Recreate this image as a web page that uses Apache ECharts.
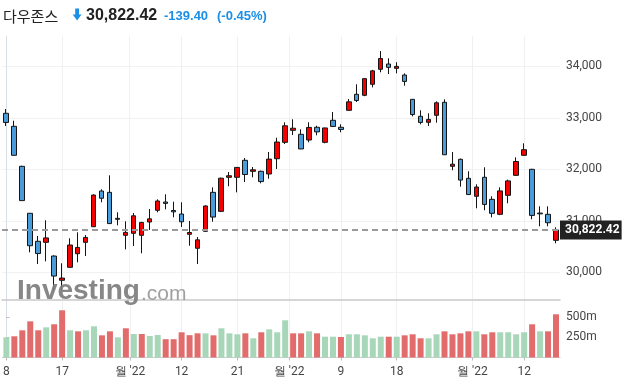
<!DOCTYPE html>
<html><head><meta charset="utf-8">
<script src="https://cdn.jsdelivr.net/npm/echarts@6/dist/echarts.min.js"></script>
<style>html,body{margin:0;padding:0;background:#fff}#c{width:624px;height:388px}</style>
</head><body><div id="c"></div>
<script>
// ---- data ----
const dates = ['2022-06-08','2022-06-09','2022-06-10','2022-06-13','2022-06-14','2022-06-15','2022-06-16','2022-06-17','2022-06-21','2022-06-22',
'2022-06-23','2022-06-24','2022-06-27','2022-06-28','2022-06-29','2022-06-30','2022-07-01','2022-07-05','2022-07-06','2022-07-07',
'2022-07-08','2022-07-11','2022-07-12','2022-07-13','2022-07-14','2022-07-15','2022-07-18','2022-07-19','2022-07-20','2022-07-21',
'2022-07-22','2022-07-25','2022-07-26','2022-07-27','2022-07-28','2022-07-29','2022-08-01','2022-08-02','2022-08-03','2022-08-04',
'2022-08-05','2022-08-08','2022-08-09','2022-08-10','2022-08-11','2022-08-12','2022-08-15','2022-08-16','2022-08-17','2022-08-18',
'2022-08-19','2022-08-22','2022-08-23','2022-08-24','2022-08-25','2022-08-26','2022-08-29','2022-08-30','2022-08-31','2022-09-01',
'2022-09-02','2022-09-06','2022-09-07','2022-09-08','2022-09-09','2022-09-12','2022-09-13','2022-09-14','2022-09-15','2022-09-16'];
const openP = [33088,32835,32058,31146,30602,30582,30316,29845,30097,30361,
30582,30885,31579,31553,31048,30718,30757,30718,30977,31204,
31365,31200,31132,30738,30466,30796,31553,31184,31845,31845,
32175,31961,31961,31909,32206,32524,32757,32680,32569,32816,
32524,32952,32816,33146,33457,33437,33651,33942,34045,33961,
33831,33359,33029,32913,33049,33301,32058,32194,31825,31476,
31845,31417,31126,31495,31883,32272,32000,31150,31126,30621];
const highP = [33171,32944,32070,31150,30705,31010,30330,30175,30660,30777,
30724,31514,31612,31883,31165,30990,31151,30980,31229,31417,
31514,31371,31359,30996,30685,31300,31650,31840,31948,32045,
32219,32045,31975,32336,32614,32913,32971,32777,32913,32847,
32810,33113,32874,33365,33651,33765,33930,34297,34156,34080,
33864,33365,33146,33088,33320,33359,32336,32210,31961,31709,
32039,31476,31650,31800,32233,32505,32010,31281,31281,30874];
const lowP = [32841,32272,31392,30388,30161,30213,29653,29653,30090,30194,
30316,30880,31359,30940,30912,30446,30510,30369,30821,31165,
31223,31068,30880,30516,30161,30790,30982,31170,31670,31553,
31753,31845,31728,31817,32006,32491,32666,32390,32524,32660,
32505,32820,32719,33140,33307,33420,33592,33884,33851,33864,
33624,33029,32874,32841,32905,32280,31981,31662,31500,31243,
31204,31068,31110,31340,31870,32260,31029,30893,30893,30563];
const closeP = [32910,32272,31392,30516,30364,30668,29927,29888,30530,30483,
30677,31500,31438,30946,31029,30775,31097,30968,31038,31385,
31338,31174,30981,30773,30630,31288,31073,31827,31875,32037,
31899,31990,31762,32198,32530,32845,32798,32396,32813,32727,
32803,32833,32774,33310,33337,33761,33912,34152,33980,33999,
33707,33064,32910,32969,33292,32283,32099,31791,31510,31656,
31318,31145,31581,31775,32152,32381,31105,31135,30962,30822.42];
// volume in millions, and colour flag (1 = green, 0 = red)
const volume = [252,265,340,452,340,377,415,590,340,327,
340,390,277,327,252,365,294,294,269,281,
229,229,315,279,302,302,277,365,302,290,
302,240,315,352,315,465,302,302,327,302,
260,260,256,290,290,277,240,260,260,260,
277,290,240,240,290,327,290,302,327,327,
290,315,315,315,290,315,415,327,327,540];
const volGreen = [1,0,0,0,0,1,0,0,1,0,
1,1,0,0,1,0,1,0,1,1,
0,0,0,0,0,1,0,1,1,1,
0,1,0,1,1,1,0,0,1,0,
1,1,0,1,1,1,1,1,0,1,
0,0,0,1,1,0,0,0,0,1,
0,0,1,1,1,1,0,1,0,0];
const xTickPos = [0,7,15.5,22,29,35.5,42,49,58.5,65];
const xTickLabels = ['8','17',"월 '22",'12','21',"월 '22",'9','18',"월 '22",'12'];
const priceTicks = [30000,31000,32000,33000,34000];
const volTicks = [250,500];
const title = '다우존스';
const lastClose = 30822.42;
const change = -139.40;
const changePct = -0.45;

// ---- chart ----
const chart = echarts.init(document.getElementById('c'), null, {renderer:'canvas'});
const fmt = v => v.toLocaleString('en-US');
const fmt2 = v => v.toLocaleString('en-US',{minimumFractionDigits:2,maximumFractionDigits:2});
const candleData = dates.map((d,i)=>[openP[i], closeP[i], lowP[i], highP[i]]);
const volData = volume.map((v,i)=>({value:v, itemStyle:{color: volGreen[i] ? '#a7d7b8' : '#e26c6c'}}));
const axFont = {fontFamily:'Roboto, Arial, sans-serif', fontSize:12, color:'#444'};
const L = 2, R = 64;

chart.setOption({
  animation:false,
  grid:[{left:L,right:R,top:36,height:264},{left:L,right:R,top:301,height:56.5}],
  xAxis:[
    {type:'category',gridIndex:0,data:dates,boundaryGap:true,position:'bottom',
     axisLine:{show:true,lineStyle:{color:'#c9c9c9',width:1.5}},axisTick:{show:false},axisLabel:{show:false},splitLine:{show:false}},
    {type:'value',gridIndex:0,min:-0.5,max:69.5,position:'top',
     axisLine:{show:false},axisTick:{show:false,customValues:xTickPos},axisLabel:{show:false,customValues:xTickPos},
     splitLine:{show:true,lineStyle:{color:'#f0f0f0',width:1}}},
    {type:'category',gridIndex:1,data:dates,boundaryGap:true,position:'top',
     axisLine:{show:false},axisTick:{show:false},axisLabel:{show:false},splitLine:{show:false}},
    {type:'value',gridIndex:1,min:-0.5,max:69.5,position:'bottom',
     axisLine:{show:true,lineStyle:{color:'#cccccc'}},
     axisTick:{show:true,length:3,customValues:xTickPos,lineStyle:{color:'#bbbbbb'}},
     axisLabel:Object.assign({customValues:xTickPos,margin:8,
       formatter:v=>{const k=xTickPos.indexOf(v);return k>=0?xTickLabels[k]:'';}},axFont),
     splitLine:{show:true,lineStyle:{color:'#f0f0f0',width:1}}}
  ],
  yAxis:[
    {type:'value',gridIndex:0,position:'right',min:29462,max:34589,scale:true,
     axisLine:{show:true,lineStyle:{color:'#d9dee4'}},
     axisTick:{show:false,customValues:priceTicks},
     axisLabel:Object.assign({customValues:priceTicks,margin:6,formatter:fmt},axFont),
     splitLine:{show:true,lineStyle:{color:'#f1f1f1'}}},
    {type:'value',gridIndex:1,position:'right',min:0,max:706,
     axisLine:{show:true,lineStyle:{color:'#d9dee4'}},
     axisTick:{show:true,length:3,customValues:volTicks,lineStyle:{color:'#bbbbbb'}},
     axisLabel:Object.assign({customValues:volTicks,margin:6,formatter:v=>v+'m'},axFont),
     splitLine:{show:false}}
  ],
  series:[
    {type:'candlestick',xAxisIndex:0,yAxisIndex:0,data:candleData,barWidth:5,
     itemStyle:{color:'#f50000',color0:'#4a9bd9',borderColor:'#151515',borderColor0:'#151515',borderWidth:1},
     markLine:{silent:true,symbol:'none',z:10,
       lineStyle:{color:'#9a9a9a',type:[6,4],width:2},
       label:{position:'end',distance:0,formatter:()=>fmt2(lastClose),backgroundColor:'#222',color:'#fff',
         fontFamily:'Roboto, Arial, sans-serif',fontWeight:'bold',fontSize:12,lineHeight:14,padding:[3,2,2,5]},
       data:[{yAxis:lastClose}]}},
    {type:'bar',xAxisIndex:2,yAxisIndex:1,data:volData,barWidth:6}
  ],
  graphic:[
    {type:'text',x:3,y:16,style:{text:title,font:'15px "Noto Sans CJK KR", sans-serif',fill:'#222',verticalAlign:'middle'}},
    {type:'polygon',shape:{points:[[75.2,8.5],[79,8.5],[79,14.5],[81.5,14.5],[77.1,20.5],[72.7,14.5],[75.2,14.5]]},style:{fill:'#1b8fe6'}},
    {type:'text',x:86,y:16,style:{text:fmt2(lastClose),font:'bold 16px "Liberation Sans", Arial, sans-serif',fill:'#222',verticalAlign:'middle'}},
    {type:'text',x:164,y:16,style:{text:change.toFixed(2),font:'bold 13px "Liberation Sans", Arial, sans-serif',fill:'#1b8fe6',verticalAlign:'middle'}},
    {type:'text',x:217,y:16,style:{text:'('+changePct.toFixed(2)+'%)',font:'bold 13px "Liberation Sans", Arial, sans-serif',fill:'#1b8fe6',verticalAlign:'middle'}},
    {type:'text',x:17,y:291,z:20,style:{text:'Investing',font:'bold 28px "Liberation Sans", Arial, sans-serif',fill:'rgba(125,125,125,0.92)',verticalAlign:'middle'}},
    {type:'text',x:141,y:294,z:20,style:{text:'.com',font:'21px "Liberation Sans", Arial, sans-serif',fill:'rgba(150,150,150,0.9)',verticalAlign:'middle'}}
  ]
});
</script></body></html>
